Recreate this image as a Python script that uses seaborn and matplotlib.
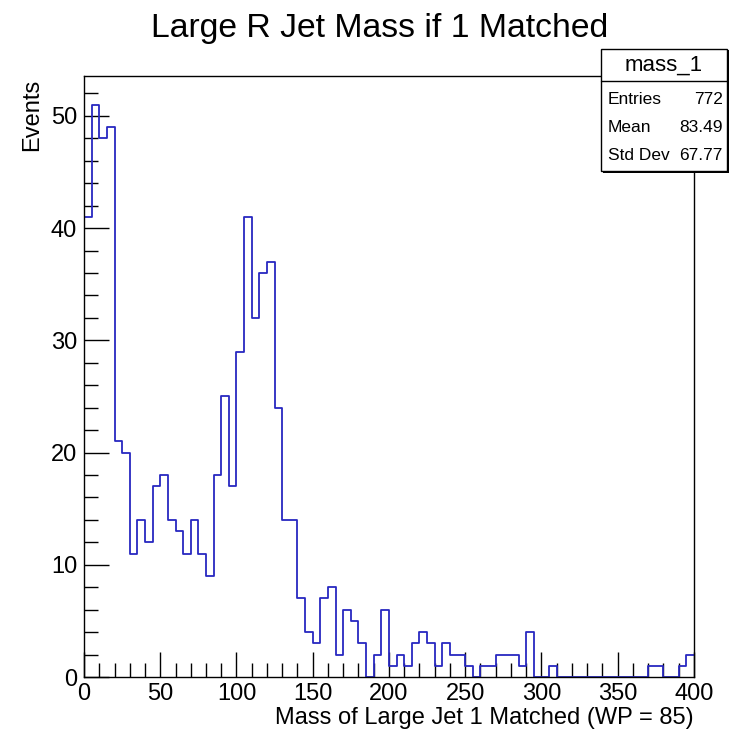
import numpy as np
import pandas as pd
import matplotlib
matplotlib.use("Agg")
import matplotlib.pyplot as plt
import seaborn as sns
from matplotlib.ticker import MultipleLocator
from matplotlib.patches import Rectangle

# ---- data ----
x_min, x_max, n_bins = 0, 400, 80
counts = [41, 51, 48, 49, 21, 20, 11, 14, 12, 17,
          18, 14, 13, 11, 14, 11, 9, 18, 25, 17,
          29, 41, 32, 36, 37, 24, 14, 14, 7, 4,
          3, 7, 8, 2, 6, 5, 3, 0, 2, 6,
          1, 2, 1, 3, 4, 3, 1, 3, 2, 2,
          1, 0, 1, 1, 2, 2, 2, 1, 4, 0,
          0, 1, 0, 0, 0, 0, 0, 0, 0, 0,
          0, 0, 0, 0, 1, 1, 0, 0, 1, 2]
title = "Large R Jet Mass if 1 Matched"
xlabel = "Mass of Large Jet 1 Matched (WP = 85)"
ylabel = "Events"
stats_name = "mass_1"
stats_labels = ["Entries", "Mean", "Std Dev"]
stats_values = ["772", "83.49", "67.77"]

bw = (x_max - x_min) / n_bins
centers = x_min + bw * (np.arange(n_bins) + 0.5)
df = pd.DataFrame({"mass": centers, "w": counts})

sns.set_style("ticks")
plt.rcParams['font.family'] = ['Liberation Sans', 'DejaVu Sans']
plt.rcParams['text.color'] = 'black'

fig = plt.figure(figsize=(7.56, 7.51), dpi=100)
fig.patch.set_facecolor("white")
ax = fig.add_axes([84/756, 1-677/751, 610/756, 601/751])

sns.histplot(data=df, x="mass", weights="w", bins=n_bins, binrange=(x_min, x_max),
             element="step", fill=False, color="#2828c0", linewidth=1.3, ax=ax)

ax.set_xlim(x_min, x_max)
ax.set_ylim(0, 1.05 * max(counts))
ax.xaxis.set_major_locator(MultipleLocator(50))
ax.xaxis.set_minor_locator(MultipleLocator(10))
ax.yaxis.set_major_locator(MultipleLocator(10))
ax.yaxis.set_minor_locator(MultipleLocator(2))
ax.tick_params(which="both", direction="in", top=False, right=False,
               labelsize=17, colors="black", labelcolor="black", width=1.0)
ax.tick_params(which="major", length=18)
ax.tick_params(which="minor", length=10)
ax.tick_params(axis="y", which="major", pad=5)
ax.tick_params(axis="x", which="major", pad=4)
for s in ax.spines.values():
    s.set_linewidth(1.0)
    s.set_color("black")

ax.set_xlabel("")
ax.set_ylabel("")
fig.text(694/756, 1-718/751, xlabel, ha="right", va="center", fontsize=17, color="black")
fig.text(32/756, 1-79/751, ylabel, ha="center", va="top", rotation=90, fontsize=17, color="black")
fig.text(380/756, 1-29/751, title, ha="center", va="center", fontsize=24.3, color="black")

# stats box
x0, x1 = 601/756, 727/756
ytop, ysep, ybot = 1-49/751, 1-81/751, 1-171/751
fig.patches.append(Rectangle((x0+1.5/756, ybot-1.5/751), x1-x0, ytop-ybot,
                             transform=fig.transFigure, facecolor="black",
                             edgecolor="none", zorder=5))
fig.patches.append(Rectangle((x0, ybot), x1-x0, ytop-ybot,
                             transform=fig.transFigure, facecolor="white",
                             edgecolor="black", linewidth=1.0, zorder=6))
fig.add_artist(plt.Line2D([x0, x1], [ysep, ysep], transform=fig.transFigure,
                          color="black", linewidth=1.0, zorder=7))
fig.text((x0+x1)/2, 1-65/751, stats_name, ha="center", va="center",
         fontsize=16, zorder=8, color="black")
row_y = [99, 127, 156]
for lab, val, ry in zip(stats_labels, stats_values, row_y):
    fig.text(x0+7/756, 1-ry/751, lab, ha="left", va="center", fontsize=12.5, zorder=8, color="black")
    fig.text(x1-4/756, 1-ry/751, val, ha="right", va="center", fontsize=12.5, zorder=8, color="black")

fig.savefig("out.png", dpi=100, facecolor="white")
